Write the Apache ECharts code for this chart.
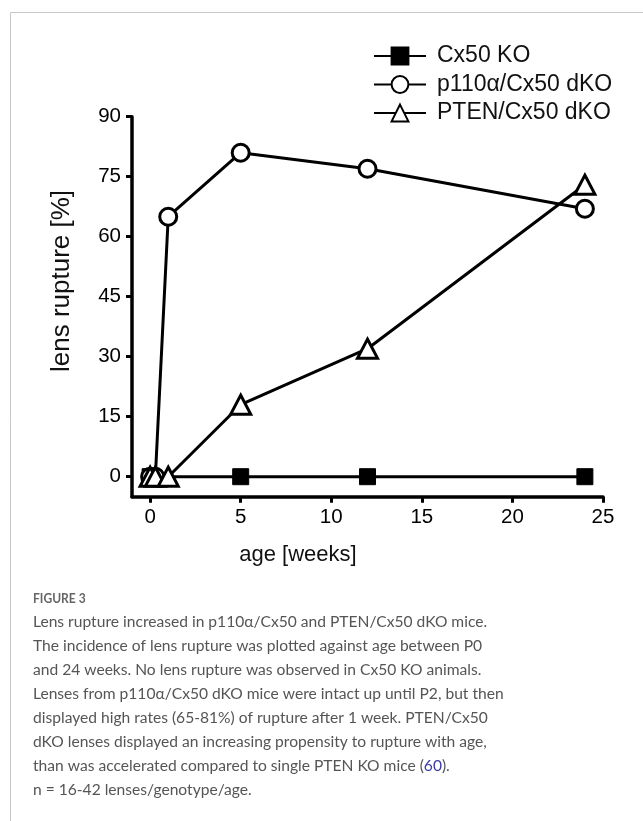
<!DOCTYPE html>
<html>
<head>
<meta charset="utf-8">
<script src="https://cdn.jsdelivr.net/npm/echarts@6/dist/echarts.min.js"></script>
<style>
html,body{margin:0;padding:0;background:#fff;}
#c{width:643px;height:821px;}
</style>
</head>
<body>
<div id="c"></div>
<script>
// ---- data ----
const seriesNames = ['Cx50 KO', 'p110\u03b1/Cx50 dKO', 'PTEN/Cx50 dKO'];
const cx50Weeks = [0, 5, 12, 24];
const cx50Values = [0, 0, 0, 0];
const dkoWeeks = [0, 0.29, 1, 5, 12, 24];
const p110Values = [0, 0, 65, 81, 77, 67];
const ptenValues = [0, 0, 0, 18, 32, 73];
const xTickValues = [0, 5, 10, 15, 20, 25];
const yTickValues = [0, 15, 30, 45, 60, 75, 90];
const xTitle = 'age [weeks]';
const yTitle = 'lens rupture [%]';
const captionHead = 'FIGURE 3';
const captionLines = [
  'Lens rupture increased in p110\u03b1/Cx50 and PTEN/Cx50 dKO mice.',
  'The incidence of lens rupture was plotted against age between P0',
  'and 24 weeks. No lens rupture was observed in Cx50 KO animals.',
  'Lenses from p110\u03b1/Cx50 dKO mice were intact up until P2, but then',
  'displayed high rates (65-81%) of rupture after 1 week. PTEN/Cx50',
  'dKO lenses displayed an increasing propensity to rupture with age,',
  'than was accelerated compared to single PTEN KO mice ({r|60}).',
  'n = 16-42 lenses/genotype/age.'
];

const pair = (xs, ys) => xs.map((x, i) => [x, ys[i]]);
const FONT = '"Liberation Sans", Arial, sans-serif';
const CAPFONT = 'Lato, "Open Sans", sans-serif';

const chart = echarts.init(document.getElementById('c'), null, {renderer: 'canvas'});

const graphics = [
  {type: 'line', shape: {x1: 10.5, y1: 12.5, x2: 643, y2: 12.5}, style: {stroke: '#c8c8c8', lineWidth: 1}, silent: true},
  {type: 'line', shape: {x1: 10.5, y1: 12.5, x2: 10.5, y2: 821}, style: {stroke: '#c8c8c8', lineWidth: 1}, silent: true},
  {type: 'text', x: 298, y: 555, style: {text: xTitle, font: '22px ' + FONT, fill: '#111', align: 'center', verticalAlign: 'middle'}},
  {type: 'text', x: 62, y: 281, rotation: Math.PI / 2, style: {text: yTitle, font: '26px ' + FONT, fill: '#111', align: 'center', verticalAlign: 'middle'}},
  {type: 'text', x: 33, y: 598, scaleX: 0.86, style: {text: captionHead, font: 'bold 14px ' + CAPFONT, fill: '#666', verticalAlign: 'middle'}}
];
captionLines.forEach((t, i) => {
  graphics.push({type: 'text', x: 33, y: 621.5 + i * 24, style: {
    text: t, font: '15.6px ' + CAPFONT, fill: '#555', verticalAlign: 'middle',
    rich: {r: {fill: '#3b3ba6', font: '15.6px ' + CAPFONT}}
  }});
});

const symStyle = {color: '#fff', borderColor: '#000', borderWidth: 3};

chart.setOption({
  animation: false,
  backgroundColor: '#fff',
  grid: {left: 132, right: 40, top: 116.7, bottom: 324.3, containLabel: false},
  legend: {
    orient: 'vertical', left: 368, top: 39.5, itemWidth: 52, itemHeight: 21, itemGap: 5.5,
    data: seriesNames,
    textStyle: {fontSize: 23, fontFamily: FONT, color: '#111', padding: [0, 0, 0, 6]}
  },
  xAxis: {
    type: 'value', min: -1, max: 25,
    axisLine: {show: true, onZero: false, lineStyle: {color: '#000', width: 3.5}},
    axisTick: {show: true, length: 6, lineStyle: {color: '#000', width: 3}, customValues: xTickValues},
    axisLabel: {fontSize: 20.5, fontFamily: FONT, color: '#000', margin: 10, customValues: xTickValues},
    splitLine: {show: false}
  },
  yAxis: {
    type: 'value', min: -5, max: 90,
    axisLine: {show: true, onZero: false, lineStyle: {color: '#000', width: 3.5}},
    axisTick: {show: true, length: 6, lineStyle: {color: '#000', width: 3}, customValues: yTickValues},
    axisLabel: {fontSize: 20.5, fontFamily: FONT, color: '#000', margin: 11, customValues: yTickValues},
    splitLine: {show: false}
  },
  series: [
    {name: seriesNames[0], type: 'line', data: pair(cx50Weeks, cx50Values), symbol: 'rect', symbolSize: 16,
     showAllSymbol: true, lineStyle: {color: '#000', width: 3}, itemStyle: {color: '#000', borderColor: '#000', borderWidth: 1}},
    {name: seriesNames[1], type: 'line', data: pair(dkoWeeks, p110Values), symbol: 'circle', symbolSize: 17,
     showAllSymbol: true, lineStyle: {color: '#000', width: 3}, itemStyle: symStyle},
    {name: seriesNames[2], type: 'line', data: pair(dkoWeeks, ptenValues), symbol: 'triangle', symbolSize: [20, 19],
     showAllSymbol: true, lineStyle: {color: '#000', width: 3}, itemStyle: symStyle}
  ],
  graphic: graphics
});
</script>
</body>
</html>
